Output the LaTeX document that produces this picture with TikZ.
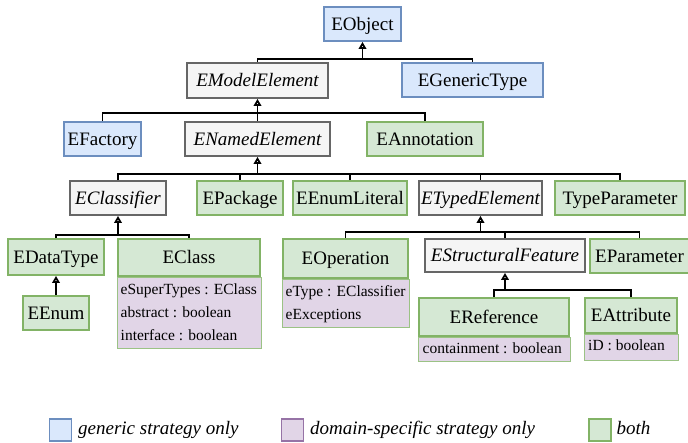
\documentclass[tikz,border=0pt]{standalone}
\usepackage{fontspec}
\setmainfont{Liberation Serif}
\usetikzlibrary{arrows.meta}
\definecolor{genfill}{HTML}{DAE8FC}
\definecolor{gendraw}{HTML}{6C8EBF}
\definecolor{bothfill}{HTML}{D5E8D4}
\definecolor{bothdraw}{HTML}{82B366}
\definecolor{domfill}{HTML}{E1D5E7}
\definecolor{domdraw}{HTML}{9673A6}
\definecolor{absfill}{HTML}{F5F5F5}
\definecolor{absdraw}{HTML}{666666}
\begin{document}
\begin{tikzpicture}[x=1pt,y=-1pt,
  cls/.style={rectangle, line width=1.8pt, inner sep=0pt, text height=17pt, text depth=4.2pt,
              font=\fontsize{19}{22}\selectfont},
  generic/.style={cls, fill=genfill, draw=gendraw},
  both/.style={cls, fill=bothfill, draw=bothdraw},
  abstract/.style={cls, fill=absfill, draw=absdraw, font=\fontsize{19}{22}\selectfont\itshape},
  attrs/.style={rectangle, fill=domfill, draw=bothdraw!80, line width=1pt, inner sep=0pt, anchor=north west},
  attr/.style={anchor=base west, inner sep=0pt, font=\fontsize{15.5}{18}\selectfont},
  link/.style={line width=1.8pt, black},
  inh/.style={link, -{Triangle[fill=white, length=7pt, width=7.5pt]}},
  key/.style={rectangle, line width=1.8pt, minimum size=22pt, inner sep=0pt},
  keytext/.style={anchor=base west, inner sep=0pt, font=\fontsize{19}{22}\selectfont\itshape},
]
\useasboundingbox (0,0) rectangle (688,443);

% ---------- attribute compartments (drawn first, headers overlap their top edge)
\node[attrs, minimum width=144, minimum height=71] (eclassA) at (117,277) {};
\node[attrs, minimum width=127, minimum height=48] (eopA) at (282,279) {};
\node[attrs, minimum width=152, minimum height=24.5] (erefA) at (418,337) {};
\node[attrs, minimum width=94, minimum height=26] (eattA) at (584,334) {};

% ---------- classes
\node[generic, minimum width=77, minimum height=34] (eobject) at (362.5,24) {EObject};

\node[abstract, minimum width=141, minimum height=35] (emodel) at (257.5,80.5) {EModelElement};
\node[generic, minimum width=141, minimum height=34] (egeneric) at (472.5,80) {EGenericType};

\node[generic, minimum width=77, minimum height=34] (efactory) at (102.5,139) {EFactory};
\node[abstract, minimum width=145, minimum height=34] (enamed) at (257.5,139) {ENamedElement};
\node[both, minimum width=116, minimum height=34] (eannot) at (425,139) {EAnnotation};

\node[abstract, minimum width=96, minimum height=34] (eclassifier) at (118,198) {EClassifier};
\node[both, minimum width=86, minimum height=34] (epackage) at (240,198) {EPackage};
\node[both, minimum width=114, minimum height=34] (eenumlit) at (350,198) {EEnumLiteral};
\node[abstract, minimum width=123, minimum height=34] (etyped) at (480.5,198) {ETypedElement};
\node[both, minimum width=130, minimum height=34] (typeparam) at (620,198) {TypeParameter};

\node[both, minimum width=96, minimum height=36] (edatatype) at (56,257) {EDataType};
\node[both, minimum width=142, minimum height=37] (eclass) at (189,257.5) {EClass};
\node[both, minimum width=66, minimum height=34] (eenum) at (56,313) {EEnum};

\node[both, minimum width=125, minimum height=39] (eoperation) at (345.5,258.5) {EOperation};
\node[abstract, minimum width=160, minimum height=33] (estruct) at (505,255.5) {EStructuralFeature};
\node[both, minimum width=99, minimum height=34] (eparam) at (639.5,256) {EParameter};

\node[both, minimum width=150, minimum height=38] (eref) at (494,317) {EReference};
\node[both, minimum width=92, minimum height=35] (eattr) at (631,315.5) {EAttribute};

% ---------- attributes
\node[attr] (a1) at (120.5,294.5) {eSuperTypes : EClass};
\node[attr] (a2) at (120.5,317.5) {abstract : boolean};
\node[attr] (a3) at (120.5,340.5) {interface : boolean};
\node[attr] (a4) at (285.5,297) {eType : EClassifier};
\node[attr] (a5) at (285.5,319.5) {eExceptions};
\node[attr] (a6) at (422.5,353.5) {containment : boolean};
\node[attr] (a7) at (588,351) {iD : boolean};

% ---------- inheritance junctions
\coordinate (j0) at (362.5,59);
\coordinate (j1) at (257.5,113);
\coordinate (j2) at (257.5,174);
\coordinate (j3) at (118,235);
\coordinate (j4) at (480.5,232);
\coordinate (j5) at (505,290);

\foreach \c in {emodel,egeneric} \draw[link] (\c.north) |- (j0);
\draw[inh] (j0) -- (eobject.south);

\foreach \c in {efactory,enamed,eannot} \draw[link] (\c.north) |- (j1);
\draw[inh] (j1) -- (emodel.south);

\foreach \c in {eclassifier,epackage,eenumlit,etyped,typeparam} \draw[link] (\c.north) |- (j2);
\draw[inh] (j2) -- (enamed.south);

\foreach \c in {edatatype,eclass} \draw[link] (\c.north) |- (j3);
\draw[inh] (j3) -- (eclassifier.south);

\foreach \c in {eoperation,estruct,eparam} \draw[link] (\c.north) |- (j4);
\draw[inh] (j4) -- (etyped.south);

\foreach \c in {eref,eattr} \draw[link] (\c.north) |- (j5);
\draw[inh] (j5) -- (estruct.south);

\draw[inh] (eenum.north) -- (edatatype.south);

% ---------- legend
\node[key, fill=genfill, draw=gendraw] (kgen) at (60.5,429.7) {};
\node[keytext] (tgen) at (78,434) {generic strategy only};
\node[key, fill=domfill, draw=domdraw] (kdom) at (292.5,429.7) {};
\node[keytext] (tdom) at (310,434) {domain-specific strategy only};
\node[key, fill=bothfill, draw=bothdraw] (kboth) at (600,429.7) {};
\node[keytext] (tboth) at (616.5,434) {both};
\end{tikzpicture}
\end{document}
